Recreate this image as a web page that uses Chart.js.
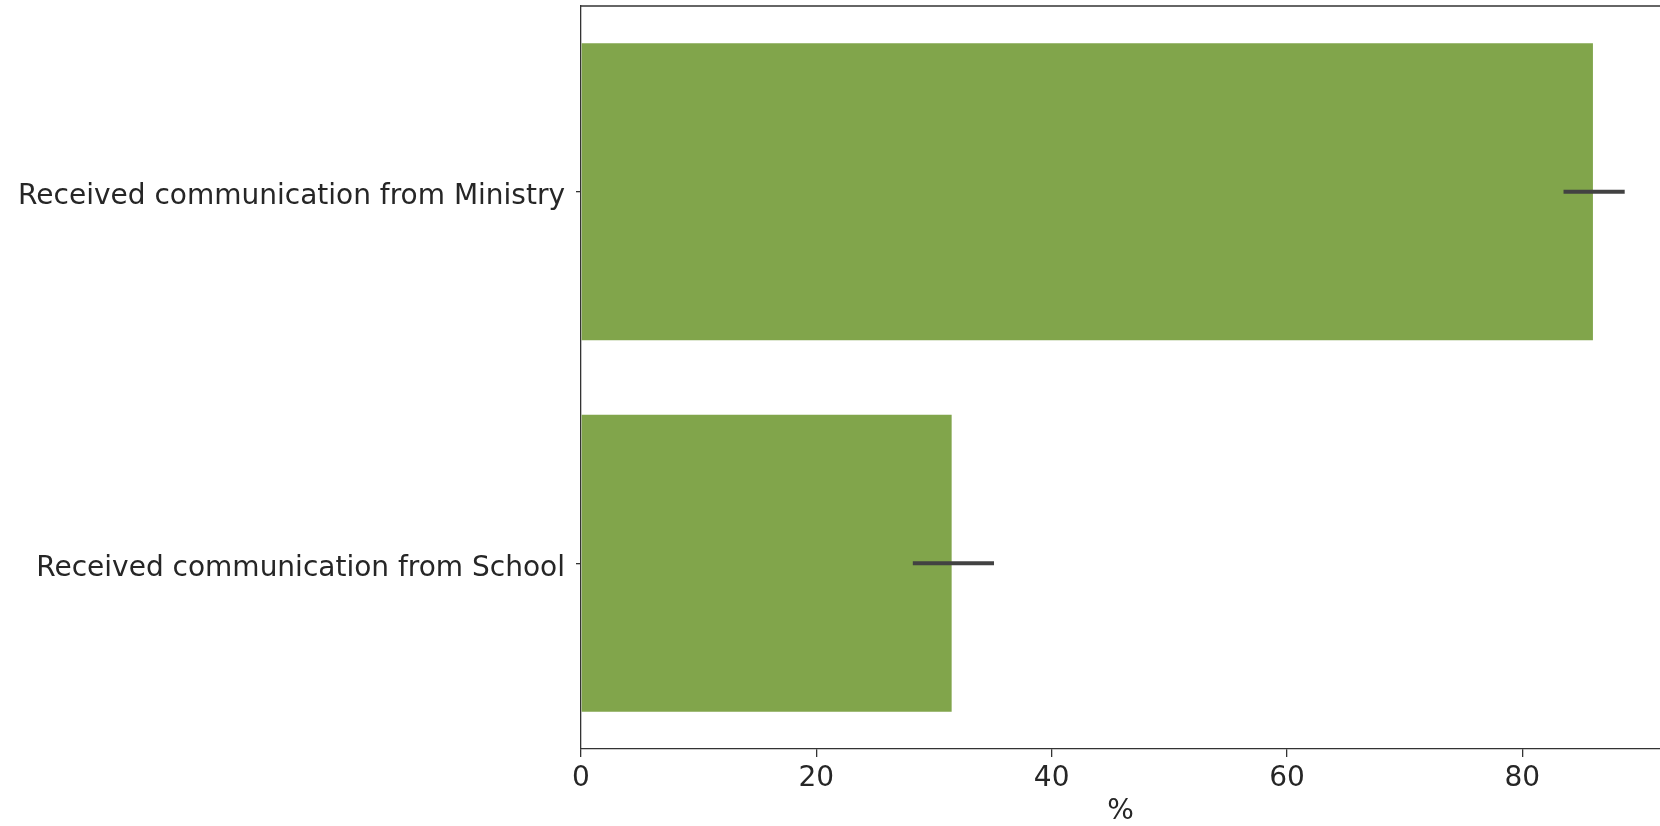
<!DOCTYPE html>
<html>
<head>
<meta charset="utf-8">
<script src="https://cdn.jsdelivr.net/npm/chart.js@4.4.1/dist/chart.umd.min.js"></script>
<style>
    html, body { margin: 0; padding: 0; background: #fff; }
    #wrap { width: 1660px; height: 826px; }
</style>
</head>
<body>
<div id="wrap"><canvas id="chart" width="1660" height="826"></canvas></div>
<script>
const categories = ["Received communication from Ministry", "Received communication from School"]
const values = [86.0, 31.5]
const errLow = [83.5, 28.2]
const errHigh = [88.7, 35.1]
const xTicks = [0, 20, 40, 60, 80]

const textColor = "#262626"
const font = "'DejaVu Sans', sans-serif"

// error bars + top spine
const errorBars = {
    id: "errorBars",
    afterDatasetsDraw(chart) {
        const ctx = chart.ctx
        const x = chart.scales.x
        const y = chart.scales.y
        ctx.save()
        ctx.strokeStyle = "#424242"
        ctx.lineWidth = 4
        ctx.lineCap = "butt"
        for (let i = 0; i < categories.length; i++) {
            let yy = y.getPixelForValue(i)
            ctx.beginPath()
            ctx.moveTo(x.getPixelForValue(errLow[i]), yy)
            ctx.lineTo(x.getPixelForValue(errHigh[i]), yy)
            ctx.stroke()
        }
        const a = chart.chartArea
        ctx.strokeStyle = "#333"
        ctx.lineWidth = 1.3
        ctx.beginPath()
        ctx.moveTo(a.left, a.top)
        ctx.lineTo(a.right, a.top)
        ctx.stroke()
        ctx.restore()
    }
}

new Chart(document.getElementById("chart"), {
    type: "bar",
    data: {
        labels: categories,
        datasets: [{
            data: values,
            backgroundColor: "#81a54b",
            borderWidth: 0,
            categoryPercentage: 1,
            barPercentage: 0.8
        }]
    },
    options: {
        indexAxis: "y",
        responsive: false,
        animation: false,
        layout: { padding: { top: 6, right: 0, left: 0, bottom: 0 } },
        plugins: {
            legend: { display: false },
            tooltip: { enabled: false }
        },
        scales: {
            x: {
                min: 0,
                max: 91.7,
                afterBuildTicks: (scale) => { scale.ticks = xTicks.map(v => ({ value: v })) },
                afterFit: (scale) => { scale.height = 77; scale.paddingLeft = 0; scale.paddingRight = 0 },
                grid: { display: true, drawOnChartArea: false, drawTicks: true, tickLength: 8, color: "#333", lineWidth: 1.3 },
                border: { display: true, color: "#333", width: 1.3 },
                ticks: { color: textColor, font: { family: font, size: 28 }, padding: 5, maxRotation: 0 },
                title: { display: true, text: "%", color: textColor, font: { family: font, size: 28, lineHeight: 1 }, padding: { top: 0, bottom: 0 } }
            },
            y: {
                afterFit: (scale) => { scale.width = 581; scale.paddingTop = 0; scale.paddingBottom = 0 },
                grid: { display: true, offset: false, drawOnChartArea: false, drawTicks: true, tickLength: 5, color: "#333", lineWidth: 1.3 },
                border: { display: true, color: "#333", width: 1.3 },
                ticks: { color: textColor, font: { family: font, size: 28 }, padding: 11, labelOffset: 5 }
            }
        }
    },
    plugins: [errorBars]
})
</script>
</body>
</html>
